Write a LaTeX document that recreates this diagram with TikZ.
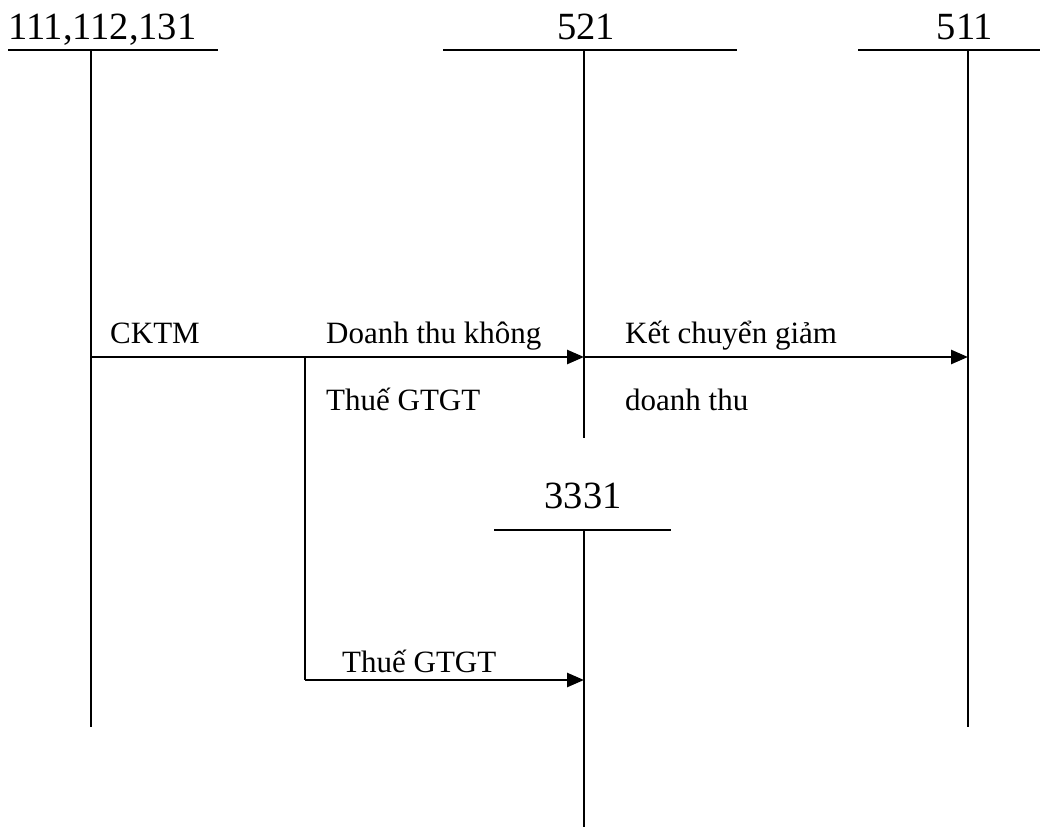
\documentclass[tikz,border=0pt]{standalone}
\usepackage{fontspec}
\setmainfont{Liberation Serif}
\usetikzlibrary{arrows.meta}
\begin{document}
\begin{tikzpicture}[x=1pt,y=-1pt,
  acct/.style={line width=2pt},
  flow/.style={line width=2.6pt,-{Triangle[length=17pt,width=14pt]}},
  head/.style={font=\fontsize{38.5}{42}\selectfont,anchor=base,inner sep=0pt},
  lbl/.style={font=\fontsize{31}{34}\selectfont,anchor=base west,inner sep=0pt}]
\useasboundingbox (0,0) rectangle (1049,827);

% T-account 111,112,131
\coordinate (a1l) at (8,50);  \coordinate (a1r) at (218,50);
\coordinate (a1t) at (91,50); \coordinate (a1b) at (91,727);
\draw[acct] (a1l) -- (a1r);
\draw[acct] (a1t) -- (a1b);
\node[head,anchor=base west] (h1) at (8,39) {111,112,131};

% T-account 521
\coordinate (a2l) at (443,50); \coordinate (a2r) at (737,50);
\coordinate (a2t) at (584,50); \coordinate (a2b) at (584,438);
\draw[acct] (a2l) -- (a2r);
\draw[acct] (a2t) -- (a2b);
\node[head] (h2) at (586,39) {521};

% T-account 511
\coordinate (a3l) at (858,50); \coordinate (a3r) at (1040,50);
\coordinate (a3t) at (968,50); \coordinate (a3b) at (968,727);
\draw[acct] (a3l) -- (a3r);
\draw[acct] (a3t) -- (a3b);
\node[head] (h3) at (965,39) {511};

% T-account 3331
\coordinate (a4l) at (494,530); \coordinate (a4r) at (671,530);
\coordinate (a4t) at (584,530); \coordinate (a4b) at (584,827);
\draw[acct] (a4l) -- (a4r);
\draw[acct] (a4t) -- (a4b);
\node[head] (h4) at (583,508) {3331};

% postings
\coordinate (p1) at (91,357);
\coordinate (p2) at (584,357);
\coordinate (p3) at (968,357);
\coordinate (s1) at (305,357);
\coordinate (s2) at (305,680);
\coordinate (s3) at (584,680);
\draw[flow] (p1) -- (p2);
\draw[flow] (p2) -- (p3);
\draw[acct] (s1) -- (s2);
\draw[flow] (s2) -- (s3);

% labels
\node[lbl] (l1) at (110,343) {CKTM};
\node[lbl] (l2) at (326,343) {Doanh thu không};
\node[lbl] (l3) at (326,410) {Thuế GTGT};
\node[lbl] (l4) at (625,343) {Kết chuyển giảm};
\node[lbl] (l5) at (625,410) {doanh thu};
\node[lbl] (l6) at (342,672) {Thuế GTGT};
\end{tikzpicture}
\end{document}
